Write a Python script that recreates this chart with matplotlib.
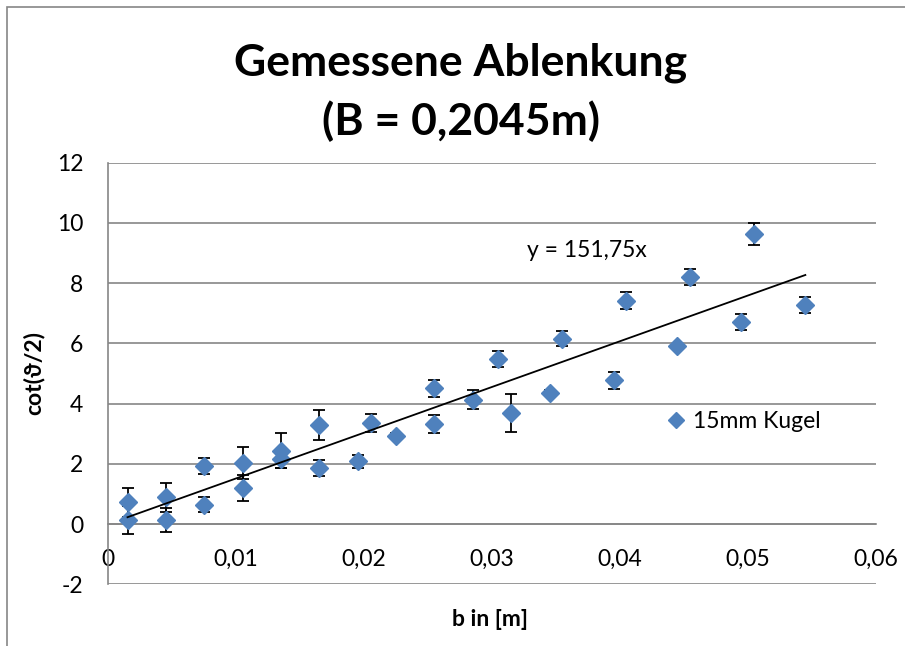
import numpy as np
import matplotlib.pyplot as plt
from matplotlib.patches import Rectangle
from matplotlib.ticker import FuncFormatter

plt.rcParams['font.family'] = ['Lato', 'DejaVu Sans']

# b in m, cot(theta/2) and its error
b = [0.0015, 0.0015, 0.0045, 0.0045, 0.0075, 0.0075, 0.0105, 0.0105,
     0.0135, 0.0135, 0.0165, 0.0165, 0.0195, 0.0205, 0.0225, 0.0255,
     0.0255, 0.0285, 0.0305, 0.0315, 0.0345, 0.0355, 0.0395, 0.0405,
     0.0445, 0.0455, 0.0495, 0.0505, 0.0545]
cot = [0.72, 0.14, 0.89, 0.14, 1.93, 0.64, 2.02, 1.20,
       2.44, 2.15, 3.29, 1.86, 2.08, 3.36, 2.94, 4.51,
       3.32, 4.13, 5.48, 3.68, 4.36, 6.15, 4.78, 7.42,
       5.91, 8.21, 6.70, 9.63, 7.27]
cot_err = [0.47, 0.46, 0.48, 0.40, 0.27, 0.25, 0.53, 0.44,
           0.57, 0.30, 0.51, 0.26, 0.22, 0.30, 0.08, 0.28,
           0.30, 0.32, 0.27, 0.63, 0.08, 0.25, 0.28, 0.27,
           0.08, 0.26, 0.27, 0.36, 0.27]
slope = 151.75  # trendline through origin

blue = '#4F81BD'
grid_col = '#868686'

fig = plt.figure(figsize=(9.05, 6.46), dpi=100)
ax = fig.add_axes([0.1197, 0.0955, 0.8479, 0.6527])

ax.set_xlim(0, 0.06)
ax.set_ylim(-2, 12)
ax.set_xticks(np.arange(0, 0.061, 0.01))
ax.set_yticks(np.arange(-2, 13, 2))
ax.xaxis.set_major_formatter(FuncFormatter(lambda v, p: ('%g' % round(v, 3)).replace('.', ',')))
ax.yaxis.set_major_formatter(FuncFormatter(lambda v, p: '%d' % v))

ax.grid(axis='y', color=grid_col, linewidth=1.2)
ax.set_axisbelow(True)
for s in ['top', 'right']:
    ax.spines[s].set_visible(False)
ax.spines['bottom'].set_position(('data', 0))
ax.spines['bottom'].set_color(grid_col)
ax.spines['left'].set_color(grid_col)
ax.spines['bottom'].set_linewidth(1.2)
ax.spines['left'].set_linewidth(1.2)
ax.tick_params(axis='both', length=0, labelsize=16.5, colors='black')
ax.tick_params(axis='x', pad=18)
ax.tick_params(axis='y', pad=18)

ax.errorbar(b, cot, yerr=cot_err, fmt='none', ecolor='black',
            elinewidth=1.3, capsize=4.5, capthick=1.3, zorder=3)
ax.plot(b, cot, 'D', color=blue, markersize=9.5, zorder=4, label='15mm Kugel')

xfit = np.array([min(b), max(b)])
ax.plot(xfit, slope * xfit, color='black', linewidth=1.3, zorder=5)
ax.text(0.0327, 9.07, 'y = 151,75x', fontsize=16.5, va='center', ha='left')

ax.legend(loc='center left', bbox_to_anchor=(0.725, 0.386), frameon=False,
          fontsize=16.5, handlelength=1.0, handletextpad=0.25, borderpad=0,
          borderaxespad=0, markerscale=0.85)

fig.text(490 / 905, 1 - 620 / 646, 'b in [m]', fontsize=16.5, fontweight='bold',
         ha='center', va='center')
fig.text(34 / 905, 1 - 373 / 646, 'cot(ϑ/2)', fontsize=16.5, fontweight='bold',
         ha='center', va='center', rotation=90)

fig.text(461 / 905, 1 - 92.5 / 646, 'Gemessene Ablenkung\n(B = 0,2045m)',
         fontsize=32, fontweight='bold', ha='center', va='center', linespacing=1.5)

fig.patches.append(Rectangle((7.3 / 905, -0.1), 1.2, 1.1 - 7.3 / 646, fill=False,
                             edgecolor=grid_col, linewidth=1.2,
                             transform=fig.transFigure, figure=fig))

fig.savefig('out.png', dpi=100)
